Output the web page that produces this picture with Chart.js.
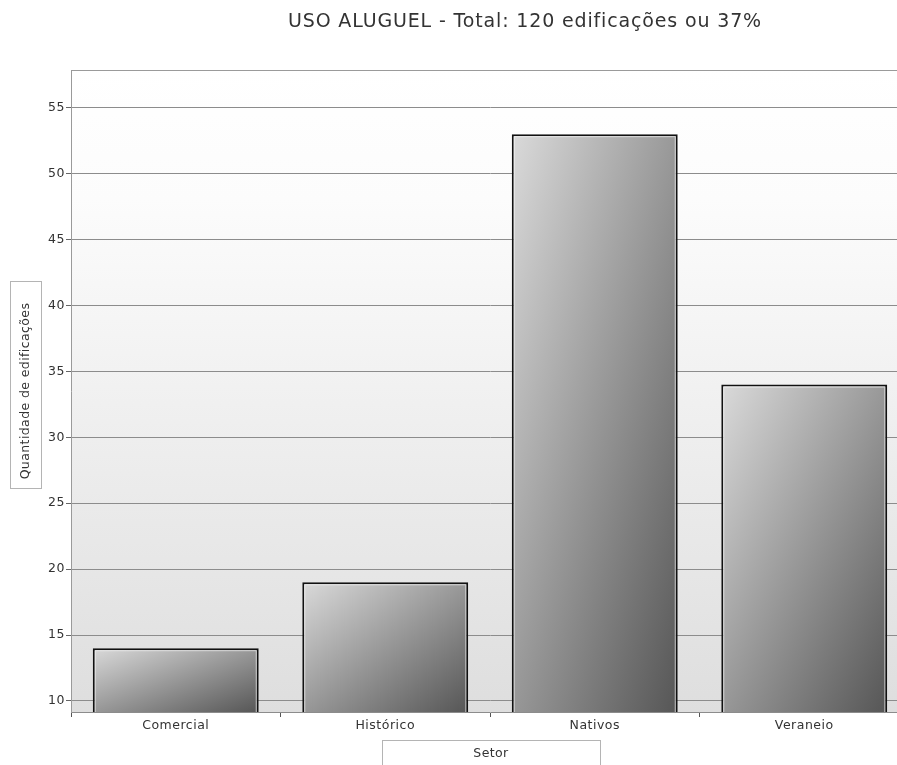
<!DOCTYPE html>
<html>
<head>
<meta charset="utf-8">
<script src="https://cdn.jsdelivr.net/npm/chart.js@4.4.1/dist/chart.umd.min.js"></script>
<style>
  html, body { margin: 0; padding: 0; background: #fff; overflow: hidden; }
  #wrap { position: relative; width: 912px; height: 765px; }
</style>
</head>
<body>
<div id="wrap"><canvas id="usoAluguel"></canvas></div>
<script>
// Uso aluguel por setor
const CATEGORIES = ['Comercial', 'Histórico', 'Nativos', 'Veraneio'];
const VALUES = [14, 19, 53, 34];
const Y_MIN = 9.16;
const Y_MAX = 57.87;
const Y_STEP = 5;
const TITLE = 'USO ALUGUEL - Total: 120 edificações ou 37%';
const Y_TITLE = 'Quantidade de edificações';
const X_TITLE = 'Setor';

const FONT = '"DejaVu Sans", Verdana, sans-serif';
const BAR_PCT = 0.792;

// diagonal gradient over the bar box (light top-left, dark bottom-right)
function barGradient(context) {
  const chart = context.chart;
  const area = chart.chartArea;
  if (!area || !chart.scales.x) return '#999';
  const xs = chart.scales.x, ys = chart.scales.y;
  const catW = xs.width / CATEGORIES.length;
  const w = catW * BAR_PCT;
  const x0 = xs.getPixelForValue(context.dataIndex) - w / 2;
  const y0 = ys.getPixelForValue(context.raw);
  const h = Math.max(area.bottom - y0, 1);
  const ax = 1 / (2 * w), ay = 1 / (2 * h);
  const n = ax * ax + ay * ay;
  const g = chart.ctx.createLinearGradient(x0, y0, x0 + ax / n, y0 + ay / n);
  g.addColorStop(0, '#dadada');
  g.addColorStop(1, '#565656');
  return g;
}

const decorations = {
  id: 'decorations',
  beforeDraw(chart) {
    const { ctx, chartArea: a } = chart;
    const g = ctx.createLinearGradient(0, a.top, 0, a.bottom);
    g.addColorStop(0, '#ffffff');
    g.addColorStop(0.2, '#fcfcfc');
    g.addColorStop(1, '#dedede');
    ctx.save();
    ctx.fillStyle = g;
    ctx.fillRect(a.left, a.top, a.right - a.left, a.bottom - a.top);
    ctx.restore();
    // a bit wider lettering, closer to the Verdana look of the original
    ctx.letterSpacing = '0.5px';
  },
  afterDatasetsDraw(chart) {
    // thin light inner edge on each bar
    const { ctx, chartArea: a } = chart;
    const meta = chart.getDatasetMeta(0);
    ctx.save();
    ctx.beginPath();
    ctx.rect(a.left, a.top, a.right - a.left, a.bottom - a.top);
    ctx.clip();
    ctx.strokeStyle = 'rgba(255,255,255,0.55)';
    ctx.lineWidth = 1;
    meta.data.forEach(bar => {
      const p = bar.getProps(['x', 'y', 'width'], true);
      ctx.strokeRect(p.x - p.width / 2 + 2.5, p.y + 2.5, p.width - 5, a.bottom - p.y);
    });
    ctx.restore();
  },
  afterDraw(chart) {
    const { ctx, chartArea: a } = chart;
    ctx.save();
    // top border
    ctx.strokeStyle = '#9a9a9a';
    ctx.lineWidth = 1;
    ctx.beginPath();
    ctx.moveTo(a.left, a.top + 0.5);
    ctx.lineTo(a.right, a.top + 0.5);
    ctx.stroke();

    // title
    ctx.fillStyle = '#333';
    ctx.font = '19px ' + FONT;
    ctx.letterSpacing = '0.85px';
    ctx.textAlign = 'center';
    ctx.textBaseline = 'middle';
    ctx.fillText(TITLE, 525, 22);

    // y axis title box
    ctx.fillStyle = '#fff';
    ctx.strokeStyle = '#b4b4b4';
    ctx.fillRect(10.5, 281.5, 31, 207);
    ctx.strokeRect(10.5, 281.5, 31, 207);
    ctx.fillStyle = '#333';
    ctx.font = '12.5px ' + FONT;
    ctx.letterSpacing = '0.4px';
    ctx.translate(26, 391);
    ctx.rotate(-Math.PI / 2);
    ctx.fillText(Y_TITLE, 0, 0);
    ctx.setTransform(1, 0, 0, 1, 0, 0);

    // x axis title box
    ctx.fillStyle = '#fff';
    ctx.fillRect(382.5, 740.5, 218, 40);
    ctx.strokeRect(382.5, 740.5, 218, 40);
    ctx.fillStyle = '#333';
    ctx.fillText(X_TITLE, 491, 754);
    ctx.restore();
  }
};

document.addEventListener('DOMContentLoaded', () => {
  const ctx = document.getElementById('usoAluguel').getContext('2d');

  new Chart(ctx, {
    type: 'bar',
    data: {
      labels: CATEGORIES,
      datasets: [{
        data: VALUES,
        backgroundColor: barGradient,
        borderColor: '#111',
        borderWidth: 2,
        borderSkipped: false,
        barPercentage: BAR_PCT,
        categoryPercentage: 1
      }]
    },
    options: {
      responsive: true,
      maintainAspectRatio: false,
      animation: false,
      layout: { padding: { top: 70, left: 0, right: 3, bottom: 0 } },
      plugins: {
        legend: { display: false },
        title: { display: false },
        tooltip: { enabled: false }
      },
      scales: {
        x: {
          offset: true,
          grid: {
            display: true,
            offset: true,
            drawOnChartArea: false,
            drawTicks: true,
            tickLength: 5,
            color: '#555'
          },
          border: { color: '#8c8c8c', width: 1 },
          ticks: {
            color: '#333',
            padding: 1,
            maxRotation: 0,
            font: { family: FONT, size: 12.5 }
          },
          afterFit(scale) { scale.height = 53; }
        },
        y: {
          min: Y_MIN,
          max: Y_MAX,
          grid: {
            color: '#8c8c8c',
            lineWidth: 1,
            tickLength: 5,
            tickColor: '#666'
          },
          border: { color: '#9a9a9a', width: 1 },
          ticks: {
            stepSize: Y_STEP,
            includeBounds: false,
            color: '#333',
            padding: 1,
            font: { family: FONT, size: 12.5 }
          },
          afterFit(scale) { scale.width = 71; }
        }
      }
    },
    plugins: [decorations]
  });
});
</script>
</body>
</html>
